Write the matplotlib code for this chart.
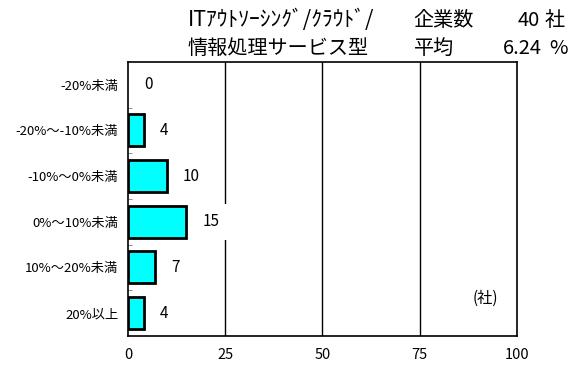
import matplotlib
matplotlib.use("Agg")
import matplotlib.pyplot as plt
import numpy as np

plt.rcParams['font.family'] = ['Noto Sans CJK JP', 'DejaVu Sans']

# data
categories = ["-20%未満", "-20%～-10%未満", "-10%～0%未満", "0%～10%未満", "10%～20%未満", "20%以上"]
counts = [0, 4, 10, 15, 7, 4]
x_ticks = [0, 25, 50, 75, 100]
title_line1 = "ITｱｳﾄｿｰｼﾝｸﾞ/ｸﾗｳﾄﾞ/"
title_line2 = "情報処理サービス型"
n_companies = "40"
average = "6.24"

fig = plt.figure(figsize=(5.76, 3.65), dpi=100)
ax = fig.add_axes([0.2222, 0.0795, 0.6753, 0.7507])

y = np.arange(len(categories))
# zero-count bars get no outline so nothing shows for them
lws = [2 if v > 0 else 0 for v in counts]
ax.barh(y, counts, height=0.7, color="#00ffff", edgecolor="black", linewidth=lws, zorder=3)

for yi, v in zip(y, counts):
    ax.text(v + 4.1, yi, str(v), ha="left", va="center", fontsize=11,
            bbox=dict(facecolor="white", edgecolor="none", pad=7), zorder=4)

ax.set_xlim(0, 100)
ax.set_ylim(len(categories) - 0.5, -0.5)
ax.set_xticks(x_ticks)
ax.set_xticklabels([str(t) for t in x_ticks], fontsize=10.5)
ax.set_yticks(y)
ax.set_yticklabels(categories, fontsize=9.5)
ax.tick_params(axis="x", length=0, pad=9)
ax.tick_params(axis="y", which="major", length=0, pad=7)
ax.set_yticks(np.arange(0.5, len(categories) - 1, 1), minor=True)
ax.tick_params(axis="y", which="minor", direction="in", length=3, color="gray")

for gx in x_ticks[1:-1]:
    ax.axvline(gx, color="black", linewidth=1, zorder=1)
for s in ax.spines.values():
    s.set_linewidth(1.2)

ax.text(92, 4.67, "(社)", ha="center", va="center", fontsize=11)

# header text
fig.text(0.326, 0.945, title_line1, ha="left", va="center", fontsize=15.5)
fig.text(0.326, 0.868, title_line2, ha="left", va="center", fontsize=14.5)
fig.text(0.718, 0.945, "企業数", ha="left", va="center", fontsize=14.5)
fig.text(0.718, 0.868, "平均", ha="left", va="center", fontsize=14.5)
fig.text(0.937, 0.945, n_companies, ha="right", va="center", fontsize=14.5)
fig.text(0.940, 0.868, average, ha="right", va="center", fontsize=14.5)
fig.text(0.946, 0.945, "社", ha="left", va="center", fontsize=14.5)
fig.text(0.953, 0.868, "%", ha="left", va="center", fontsize=14.5)

fig.savefig("out.png", dpi=100)
